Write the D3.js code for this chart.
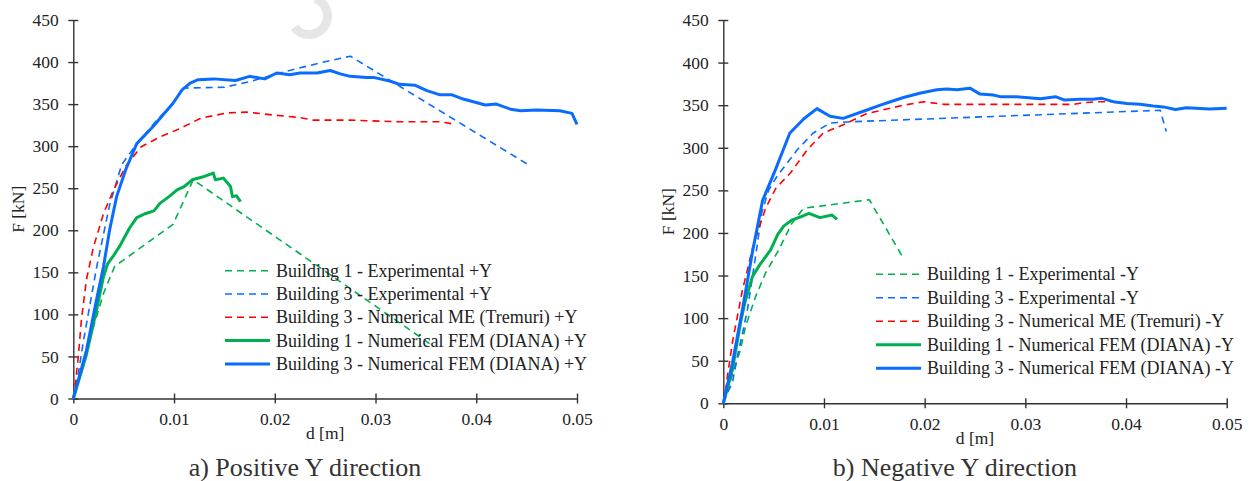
<!DOCTYPE html>
<html>
<head>
<meta charset="utf-8">
<script src="https://cdn.jsdelivr.net/npm/d3@7"></script>
<style>
  html, body { margin: 0; padding: 0; background: #fff; }
  svg { display: block; }
  text { font-family: "Liberation Serif", "Times New Roman", serif; }
</style>
</head>
<body>
<svg id="chart" width="1251" height="481"></svg>
<script>
// ---------- DATA ----------
const xTicks = [0, 0.01, 0.02, 0.03, 0.04, 0.05];
const xTickLabels = ["0", "0.01", "0.02", "0.03", "0.04", "0.05"];
const yTicks = [0, 50, 100, 150, 200, 250, 300, 350, 400, 450];

const seriesNames = ["Building 1 - Experimental", "Building 3 - Experimental",
  "Building 3 - Numerical ME (Tremuri)", "Building 1 - Numerical FEM (DIANA)",
  "Building 3 - Numerical FEM (DIANA)"];
const panelTitles = ["a) Positive Y direction", "b) Negative Y direction"];
const panelSuffix = ["+Y", "-Y"];

// Positive Y direction: [d (m), F (kN)]
const b1ExpPos = [[0,0],[0.0010,40],[0.0020,85],[0.0030,125],[0.0041,157],[0.0099,207],[0.0119,260],[0.0354,65]];
const b3ExpPos = [[0,0],[0.0005,30],[0.0010,68],[0.0023,155],[0.0036,230],[0.0048,278],[0.0060,298],[0.0083,331],
  [0.0099,351],[0.0109,369],[0.0150,370],[0.0176,377],[0.0208,388],[0.0245,399],[0.0275,407],[0.0453,277]];
const b3MePos = [[0,0],[0.0002,18],[0.0005,50],[0.0008,93],[0.0013,141],[0.0020,180],[0.0030,220],[0.0040,248],
  [0.0052,276],[0.0067,299],[0.0086,311],[0.0106,321],[0.0126,333],[0.0152,339.5],[0.0172,340.5],[0.0199,337],
  [0.0225,334],[0.0238,331],[0.0275,331],[0.0324,329],[0.0364,329],[0.0379,326]];
const b1FemPos = [[0,0],[0.0013,52],[0.0023,105],[0.0030,145],[0.0034,160],[0.0040,170],[0.0047,183],[0.0056,203],
  [0.0063,215],[0.0072,220],[0.0080,223],[0.0086,232],[0.0095,240],[0.0103,248],[0.0110,252],[0.0118,260],
  [0.0130,264],[0.0139,268],[0.0141,260],[0.0149,262],[0.0156,252],[0.0158,240],[0.0162,241],[0.0166,234]];
const b3FemPos = [[0,0],[0.0013,57],[0.0023,117],[0.0030,157],[0.0036,200],[0.0043,240],[0.0052,272],[0.0063,303],
  [0.0079,323],[0.0099,351],[0.0108,367],[0.0116,375],[0.0124,379],[0.0139,380],[0.0161,378],[0.0175,383],
  [0.0190,380],[0.0202,387],[0.0215,385],[0.0225,387],[0.0242,387],[0.0255,390],[0.0265,386],[0.0275,383],
  [0.0291,381.5],[0.0299,381.5],[0.0314,377.5],[0.0324,373.5],[0.0339,372.5],[0.0351,366],[0.0364,361],
  [0.0376,361],[0.0387,356],[0.0409,349],[0.0420,350],[0.0434,344],[0.0444,342],[0.0460,343],[0.0483,342],
  [0.0495,339],[0.0500,326]];

// Negative Y direction: [d (m), F (kN)]
const b1ExpNeg = [[0,0],[0.0017,63],[0.0022,90],[0.0032,125],[0.0042,153],[0.0055,180],[0.0068,211],[0.0077,225],
  [0.0080,229],[0.0145,239],[0.0179,170]];
const b3ExpNeg = [[0,0],[0.0004,12],[0.0009,24],[0.0014,55],[0.0019,82],[0.0024,110],[0.0029,149],[0.0034,188],
  [0.0038,223],[0.0045,250],[0.0053,266],[0.0073,297],[0.0089,317],[0.0106,329],[0.0126,330.5],[0.0434,344],[0.0440,319]];
const b3MeNeg = [[0,0],[0.00014,8],[0.0004,31],[0.0007,55],[0.0010,78],[0.0014,102],[0.0019,133],[0.0024,157],
  [0.0029,182],[0.0035,204],[0.0042,229],[0.0052,252],[0.0067,271],[0.0083,297],[0.0099,317],[0.0123,329],
  [0.0142,340],[0.0179,350],[0.0199,354],[0.0219,351],[0.0348,351],[0.0358,353],[0.0371,354],[0.0390,354]];
const b1FemNeg = [[0,0],[0.0009,39],[0.0017,94],[0.0022,121],[0.0029,149],[0.0037,164],[0.0047,180],[0.0054,198],
  [0.0060,208],[0.0068,215],[0.0077,219],[0.0085,223],[0.0096,218],[0.0108,221],[0.0113,216]];
const b3FemNeg = [[0,0],[0.0009,47],[0.0019,110],[0.0029,178],[0.0039,238],[0.0052,275],[0.0066,317],[0.0080,334],
  [0.0093,346],[0.0106,337],[0.0119,334.5],[0.0142,344],[0.0156,350],[0.0166,354],[0.0179,359],[0.0195,364],
  [0.0212,368],[0.0222,369],[0.0232,368],[0.0245,370],[0.0255,363],[0.0268,362],[0.0275,360],[0.0291,360],
  [0.0315,357.5],[0.0330,360],[0.0339,356],[0.0354,357],[0.0367,357],[0.0376,358],[0.0389,353.6],[0.0401,352],
  [0.0414,351],[0.0427,349],[0.0437,348],[0.0449,345],[0.0460,347],[0.0483,345.5],[0.0500,346.5]];

// ---------- STYLE ----------
const FONT = '"Liberation Serif", "Times New Roman", serif';
const seriesStyle = [
  { color: "#00b050", width: 1.6, dash: "7,5" },
  { color: "#0a6cff", width: 1.6, dash: "7,5" },
  { color: "#ff0000", width: 1.6, dash: "7,5" },
  { color: "#00b050", width: 3, dash: null },
  { color: "#0a6cff", width: 3, dash: null }
];

const panels = [
  { data: [b1ExpPos, b3ExpPos, b3MePos, b1FemPos, b3FemPos],
    x0: 73.3, x1: 577, y0: 398.5, y1: 20,
    legX: 225, legY: 270.7, legStep: 23.3,
    yLabelX: 24, xLabelY: 439, titleX: 305, titleY: 476 },
  { data: [b1ExpNeg, b3ExpNeg, b3MeNeg, b1FemNeg, b3FemNeg],
    x0: 723.3, x1: 1226.7, y0: 403.3, y1: 20,
    legX: 876, legY: 274.3, legStep: 23.5,
    yLabelX: 674, xLabelY: 444, titleX: 955, titleY: 476 }
];

const svg = d3.select("#chart");

// light watermark fragment (top)
svg.append("path")
  .attr("transform", "translate(309,16)")
  .attr("d", d3.arc()({ innerRadius: 14, outerRadius: 23,
    startAngle: 20 * Math.PI / 180, endAngle: 232 * Math.PI / 180 }))
  .attr("fill", "#e6e6e6");

panels.forEach((p, pi) => {
  const x = d3.scaleLinear().domain([0, 0.05]).range([p.x0, p.x1]);
  const y = d3.scaleLinear().domain([0, 450]).range([p.y0, p.y1]);
  const g = svg.append("g").attr("font-family", FONT);

  // Y axis
  const yAxis = g.append("g")
    .attr("transform", `translate(${p.x0},0)`)
    .call(d3.axisLeft(y).tickValues(yTicks).tickSizeInner(5).tickSizeOuter(0).tickPadding(9.6));
  // X axis
  const xAxis = g.append("g")
    .attr("transform", `translate(0,${p.y0})`)
    .call(d3.axisBottom(x).tickValues(xTicks).tickFormat((d, i) => xTickLabels[i])
      .tickSizeInner(5).tickSizeOuter(0).tickPadding(9.5));

  [yAxis, xAxis].forEach(a => {
    a.attr("font-family", FONT).attr("font-size", 17.5);
    a.select(".domain").attr("stroke", "#333").attr("stroke-width", 1.4);
    a.selectAll(".tick line").attr("stroke", "#333").attr("stroke-width", 1.4);
    a.selectAll(".tick text").attr("fill", "#222").style("font-size", "17.5px")
      .style("font-family", FONT);
  });
  yAxis.selectAll(".tick line").attr("x1", -5).attr("x2", 5);
  xAxis.selectAll(".tick line").attr("y1", -5).attr("y2", 5);

  // series lines
  const line = d3.line().x(d => x(d[0])).y(d => y(d[1]));
  p.data.forEach((ser, si) => {
    const st = seriesStyle[si];
    g.append("path")
      .datum(ser)
      .attr("d", line)
      .attr("fill", "none")
      .attr("stroke", st.color)
      .attr("stroke-width", st.width)
      .attr("stroke-linejoin", "round")
      .attr("stroke-dasharray", st.dash);
  });

  // axis titles
  g.append("text")
    .attr("transform", `translate(${p.yLabelX},${(p.y0 + p.y1) / 2}) rotate(-90)`)
    .attr("text-anchor", "middle")
    .attr("fill", "#222")
    .style("font-size", "17.5px")
    .text("F [kN]");
  g.append("text")
    .attr("x", (p.x0 + p.x1) / 2)
    .attr("y", p.xLabelY)
    .attr("text-anchor", "middle")
    .attr("fill", "#222")
    .style("font-size", "17.5px")
    .text("d [m]");

  // legend
  seriesNames.forEach((name, si) => {
    const st = seriesStyle[si];
    const ly = p.legY + si * p.legStep;
    g.append("line")
      .attr("x1", p.legX).attr("x2", p.legX + 45)
      .attr("y1", ly).attr("y2", ly)
      .attr("stroke", st.color)
      .attr("stroke-width", st.width)
      .attr("stroke-dasharray", st.dash);
    g.append("text")
      .attr("x", p.legX + 51)
      .attr("y", ly)
      .attr("dy", "0.33em")
      .attr("fill", "#222")
      .style("font-size", "18px")
      .text(`${name} ${panelSuffix[pi]}`);
  });

  // panel title
  g.append("text")
    .attr("x", p.titleX)
    .attr("y", p.titleY)
    .attr("text-anchor", "middle")
    .attr("fill", "#333")
    .style("font-size", "26px")
    .text(panelTitles[pi]);
});
</script>
</body>
</html>
